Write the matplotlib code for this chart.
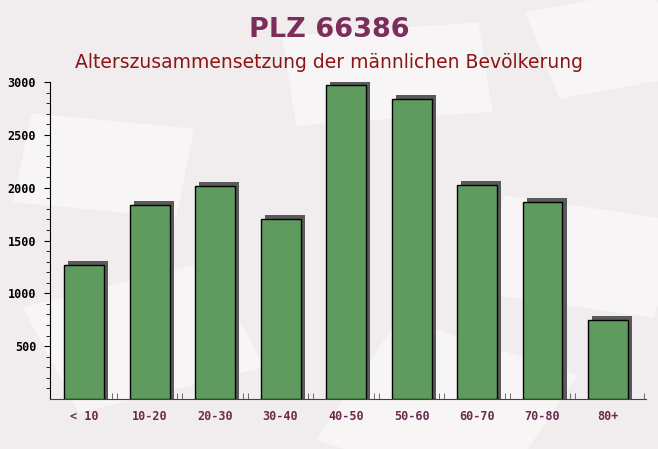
import matplotlib
matplotlib.use("Agg")
import matplotlib.pyplot as plt
import numpy as np
from matplotlib.patches import Rectangle

# age groups and male population counts
categories = ["< 10", "10-20", "20-30", "30-40", "40-50", "50-60", "60-70", "70-80", "80+"]
values = [1265, 1835, 2015, 1703, 2971, 2838, 2025, 1864, 747]

bg = "#f1edee"
fig = plt.figure(figsize=(6.58, 4.49), dpi=100, facecolor=bg)

# faint background "paper" shapes, on their own axes behind everything
bgax = fig.add_axes([0, 0, 1, 1], zorder=-1)
bgax.set_axis_off()
bgax.set_xlim(0, 1)
bgax.set_ylim(0, 1)
for (x0, y0, w, h, a) in [(0.02, 0.55, 0.25, 0.2, -8), (0.45, 0.72, 0.3, 0.2, 6),
                           (0.72, 0.35, 0.28, 0.22, -12), (0.12, 0.08, 0.3, 0.25, 20),
                           (0.48, 0.02, 0.3, 0.3, -25), (0.85, 0.78, 0.2, 0.2, 15)]:
    bgax.add_patch(Rectangle((x0, y0), w, h, angle=a, facecolor="white", alpha=0.45,
                             edgecolor="none"))

ax = fig.add_axes([50 / 658, 50 / 449, 596 / 658, 317 / 449])
ax.set_facecolor("none")

x = np.arange(len(categories))
bw = 0.61
# shadow bars
ax.bar(x + 0.065, np.array(values) + 38, width=bw, color="#5a5a5a", zorder=2)
ax.bar(x, values, width=bw, color="#5f9a5f", edgecolor="black", linewidth=1.0, zorder=3)

ax.set_xlim(-0.52, 8.58)
ax.set_ylim(0, 3000)

for s in ["top", "right"]:
    ax.spines[s].set_visible(False)
ax.spines["left"].set_color("black")
ax.spines["bottom"].set_color("#6b2a4f")

ax.set_yticks([500, 1000, 1500, 2000, 2500, 3000])
ax.set_yticks(np.arange(100, 3001, 100), minor=True)
ax.tick_params(axis="y", which="major", length=4, color="black", labelsize=8.5, pad=6)
ax.tick_params(axis="y", which="minor", length=3, color="black")
for t in ax.get_yticklabels():
    t.set_fontfamily("DejaVu Sans Mono")
    t.set_fontweight("bold")

ax.set_xticks(x)
ax.set_xticklabels(categories, fontfamily="DejaVu Sans Mono", fontweight="bold",
                   fontsize=8.5, color="#6b2a4f")
ax.tick_params(axis="x", which="major", length=0, pad=8)
ax.set_xticks(np.concatenate([x[:-1] + 0.42, x[:-1] + 0.5, [8.55]]), minor=True)
ax.tick_params(axis="x", which="minor", length=4, direction="in", color="#555555")

fig.text(0.5, 0.933, "PLZ 66386", ha="center", va="center", fontsize=19.5,
         fontweight="bold", color="#7b2d5b")
fig.text(0.5, 0.861, "Alterszusammensetzung der männlichen Bevölkerung", ha="center",
         va="center", fontsize=13.5, color="#8b1515")

fig.savefig("out.png", dpi=100, facecolor=bg)
